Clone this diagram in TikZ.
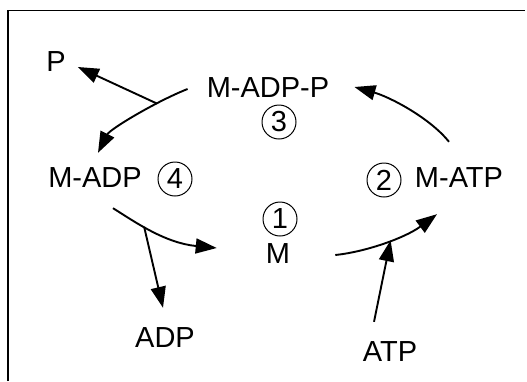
\documentclass[tikz,border=0pt]{standalone}
\usepackage{fontspec}
\setmainfont{Liberation Sans}
\usetikzlibrary{arrows.meta}
\begin{document}
\begin{tikzpicture}[x=1pt,y=-1pt,
  lbl/.style={inner sep=0pt,font=\fontsize{29}{33}\selectfont},
  num/.style={circle,draw,line width=1pt,minimum size=34pt,inner sep=0pt,font=\fontsize{29}{32}\selectfont},
  arr/.style={line width=1.9pt,-{Triangle[length=21pt,width=15pt]}}]
\useasboundingbox (0,0) rectangle (527,381);
\draw[line width=1.3pt] (8,381) -- (8,10.5) -- (525,10.5);
\node[lbl] (p) at (56,62) {P};
\node[lbl] (madpp) at (268,88) {M-ADP-P};
\node[num] (n3) at (279,122) {3};
\node[lbl] (madp) at (95,178) {M-ADP};
\node[num] (n4) at (175,179) {4};
\node[num] (n2) at (384,180) {2};
\node[lbl] (matp) at (459,178) {M-ATP};
\node[num] (n1) at (280,219) {1};
\node[lbl] (m) at (278,254) {M};
\node[lbl] (adp) at (165,338) {ADP};
\node[lbl] (atp) at (390,352) {ATP};
% M-ADP-P -> M-ADP, releasing P
\draw[arr] ([shift={(-19,1)}]madpp.west) .. controls (157,101) and (110,129) .. ([shift={(3,-15)}]madp.north)
  coordinate[pos=0.3] (b1);
\draw[arr] (b1) -- ([shift={(12,5)}]p.east);
% M-ATP -> M-ADP-P
\draw[arr] ([shift={(-10,-26)}]matp.north) .. controls (430,118) and (390,97) .. ([shift={(25,-1)}]madpp.east);
% M-ADP -> M, releasing ADP
\draw[arr] ([shift={(18,20)}]madp.south) .. controls (135,222) and (165,243) .. ([shift={(-49,-6)}]m.west)
  coordinate[pos=0.4] (b2);
\draw[arr] (b2) -- ([shift={(-2,-20)}]adp.north);
% M -> M-ATP, binding ATP
\draw[arr] ([shift={(45,1)}]m.east) .. controls (365,252) and (405,238) .. ([shift={(-22,26)}]matp.south)
  coordinate[pos=0.55] (b3);
\draw[arr] ([shift={(-16,-20)}]atp.north) -- (b3);
\end{tikzpicture}
\end{document}
